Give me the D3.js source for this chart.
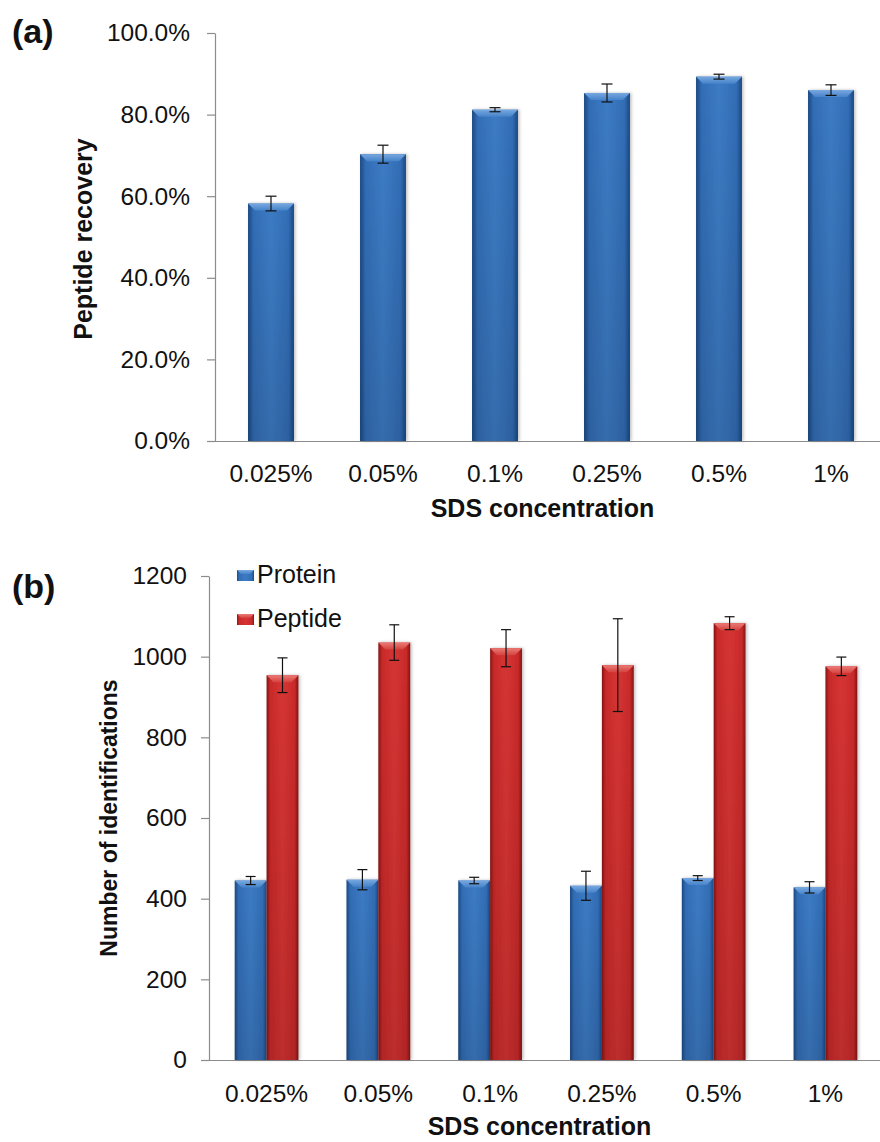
<!DOCTYPE html>
<html>
<head>
<meta charset="utf-8">
<script src="https://cdn.jsdelivr.net/npm/d3@7"></script>
<style>
  html, body { margin: 0; padding: 0; background: #fff; }
  svg { display: block; font-family: "Liberation Sans", Arial, sans-serif; }
</style>
</head>
<body>
<svg id="fig" width="880" height="1142"></svg>
<script>
// SDS concentrations tested
const concentrations = ["0.025%", "0.05%", "0.1%", "0.25%", "0.5%", "1%"];

// (a) peptide recovery (%) with standard deviation
const recovery    = [58.2, 70.3, 81.2, 85.3, 89.3, 86.0];
const recoveryErr = [1.8, 2.2, 0.5, 2.2, 0.6, 1.3];

// (b) number of identifications with standard deviation
const proteinIds    = [445, 447, 445, 432, 451, 428];
const proteinErr    = [10, 25, 8, 36, 6, 14];
const peptideIds    = [954, 1035, 1021, 979, 1083, 976];
const peptideErr    = [43, 44, 46, 115, 16, 23];

const seriesNames = ["Protein", "Peptide"];
const recoveryTicks = [0, 20, 40, 60, 80, 100];
const idTicks = [0, 200, 400, 600, 800, 1000, 1200];

const TICK_FONT = "24.5px";

const svg = d3.select("#fig");
const defs = svg.append("defs");

// bar fills: horizontal shading across the bar, lighter chamfer on top
const palettes = {
  blue: { edge: "#1a4883", mid: "#326db5", light: "#3c7bc4", top: "#78a8e0", topEdge: "#4683c9" },
  red:  { edge: "#861414", mid: "#c92a2a", light: "#d63433", top: "#ec7a76", topEdge: "#d4433f" }
};
Object.entries(palettes).forEach(([k, p]) => {
  const g = defs.append("linearGradient").attr("id", "body-" + k)
    .attr("x1", 0).attr("x2", 1).attr("y1", 0).attr("y2", 0);
  g.append("stop").attr("offset", "0%").attr("stop-color", p.edge);
  g.append("stop").attr("offset", "12%").attr("stop-color", p.mid);
  g.append("stop").attr("offset", "50%").attr("stop-color", p.light);
  g.append("stop").attr("offset", "88%").attr("stop-color", p.mid);
  g.append("stop").attr("offset", "100%").attr("stop-color", p.edge);
  const t = defs.append("linearGradient").attr("id", "top-" + k)
    .attr("x1", 0).attr("x2", 0).attr("y1", 0).attr("y2", 1);
  t.append("stop").attr("offset", "0%").attr("stop-color", p.top);
  t.append("stop").attr("offset", "100%").attr("stop-color", p.topEdge);
});
// slight darkening toward the base of each bar
const fade = defs.append("linearGradient").attr("id", "base-fade")
  .attr("x1", 0).attr("x2", 0).attr("y1", 0).attr("y2", 1);
fade.append("stop").attr("offset", "0%").attr("stop-color", "#000").attr("stop-opacity", 0);
fade.append("stop").attr("offset", "100%").attr("stop-color", "#000").attr("stop-opacity", 0.12);

const sh = defs.append("filter").attr("id", "shadow")
  .attr("x", "-20%").attr("y", "-5%").attr("width", "150%").attr("height", "110%");
sh.append("feDropShadow").attr("dx", 1.5).attr("dy", 0).attr("stdDeviation", 1.5)
  .attr("flood-color", "#000").attr("flood-opacity", 0.25);

function bar(g, x, y, w, h, key) {
  const bev = Math.min(7, w / 4, h / 2);
  const grp = g.append("g").attr("filter", "url(#shadow)");
  grp.append("rect").attr("x", x).attr("y", y).attr("width", w).attr("height", h)
    .attr("fill", `url(#body-${key})`);
  grp.append("rect").attr("x", x).attr("y", y).attr("width", w).attr("height", h)
    .attr("fill", "url(#base-fade)");
  grp.append("path")
    .attr("d", `M${x},${y}L${x + w},${y}L${x + w - bev},${y + bev}L${x + bev},${y + bev}Z`)
    .attr("fill", `url(#top-${key})`);
}

function errBar(g, cx, yTop, yBot, cap) {
  const e = g.append("g").attr("stroke", "#111").attr("stroke-width", 1.2);
  e.append("line").attr("x1", cx).attr("x2", cx).attr("y1", yTop).attr("y2", yBot);
  e.append("line").attr("x1", cx - cap).attr("x2", cx + cap).attr("y1", yTop).attr("y2", yTop);
  e.append("line").attr("x1", cx - cap).attr("x2", cx + cap).attr("y1", yBot).attr("y2", yBot);
}

function styleAxis(ax) {
  ax.select(".domain").attr("stroke", "#8c8c8c").attr("stroke-width", 1.2);
  ax.selectAll(".tick line").attr("stroke", "#8c8c8c").attr("stroke-width", 1.2);
  ax.selectAll(".tick text").attr("fill", "#111").style("font-size", TICK_FONT);
}

function title(g, x, y, text, rotate, size) {
  const t = g.append("text")
    .attr("text-anchor", "middle").style("font-size", size).style("font-weight", "bold")
    .attr("fill", "#111").text(text);
  if (rotate) t.attr("transform", `translate(${x},${y}) rotate(-90)`);
  else t.attr("x", x).attr("y", y);
  return t;
}

// ---------- (a) peptide recovery ----------
{
  const left = 215, right = 887, top = 33, base = 441;
  const x = d3.scaleBand().domain(concentrations).range([left, right])
    .paddingInner(0.59).paddingOuter(0.295);
  const y = d3.scaleLinear().domain([0, 100]).range([base, top]);
  const g = svg.append("g");

  const ya = g.append("g").attr("transform", `translate(${left},0)`)
    .call(d3.axisLeft(y).tickValues(recoveryTicks).tickSize(8).tickSizeOuter(0)
      .tickPadding(17).tickFormat(d => d.toFixed(1) + "%"));
  styleAxis(ya);

  const xa = g.append("g").attr("transform", `translate(0,${base})`)
    .call(d3.axisBottom(x).tickSize(0).tickSizeOuter(0).tickPadding(24));
  styleAxis(xa);
  xa.select(".domain").attr("d", `M${left},0.5H880`);

  concentrations.forEach((c, i) => {
    bar(g, x(c), y(recovery[i]), x.bandwidth(), base - y(recovery[i]), "blue");
  });
  concentrations.forEach((c, i) => {
    const cx = x(c) + x.bandwidth() / 2;
    errBar(g, cx, y(recovery[i] + recoveryErr[i]), y(recovery[i] - recoveryErr[i]), 5.5);
  });

  title(g, 92, (top + base) / 2 + 2, "Peptide recovery", true, "25px");
  title(g, (left + 880) / 2 - 5, 517, "SDS concentration", false, "25px");
  g.append("text").attr("x", 12).attr("y", 43).style("font-size", "34px")
    .style("font-weight", "bold").attr("fill", "#111").text("(a)");
}

// ---------- (b) identifications ----------
{
  const left = 209, right = 883, top = 576, base = 1060;
  const x0 = d3.scaleBand().domain(concentrations).range([left, right])
    .paddingInner(0.43).paddingOuter(0.23);
  const x1 = d3.scaleBand().domain(seriesNames).range([0, x0.bandwidth()]);
  const y = d3.scaleLinear().domain([0, 1200]).range([base, top]);
  const g = svg.append("g");

  const ya = g.append("g").attr("transform", `translate(${left},0)`)
    .call(d3.axisLeft(y).tickValues(idTicks).tickSize(8).tickSizeOuter(0)
      .tickPadding(14).tickFormat(d3.format("d")));
  styleAxis(ya);

  const xa = g.append("g").attr("transform", `translate(0,${base})`)
    .call(d3.axisBottom(x0).tickSize(0).tickSizeOuter(0).tickPadding(25));
  styleAxis(xa);
  xa.select(".domain").attr("d", `M${left},0.5H880`);

  const series = [
    { name: "Protein", vals: proteinIds, errs: proteinErr, key: "blue" },
    { name: "Peptide", vals: peptideIds, errs: peptideErr, key: "red" }
  ];
  concentrations.forEach((c, i) => {
    series.forEach(s => {
      const bx = x0(c) + x1(s.name);
      bar(g, bx, y(s.vals[i]), x1.bandwidth(), base - y(s.vals[i]), s.key);
    });
  });
  concentrations.forEach((c, i) => {
    series.forEach(s => {
      const cx = x0(c) + x1(s.name) + x1.bandwidth() / 2;
      errBar(g, cx, y(s.vals[i] + s.errs[i]), y(s.vals[i] - s.errs[i]), 5);
    });
  });

  // legend
  const lg = g.append("g").attr("transform", "translate(237,570)");
  series.forEach((s, i) => {
    const row = lg.append("g").attr("transform", `translate(0,${i * 44})`);
    row.append("rect").attr("width", 17).attr("height", 11).attr("fill", `url(#body-${s.key})`);
    row.append("path").attr("d", "M0,0L17,0L13,4L4,4Z").attr("fill", `url(#top-${s.key})`);
    row.append("text").attr("x", 20).attr("y", 13).style("font-size", "25px").attr("fill", "#111")
      .text(s.name);
  });

  title(g, 117, (top + base) / 2, "Number of identifications", true, "23px");
  title(g, (left + 880) / 2 - 5, 1135, "SDS concentration", false, "25px");
  g.append("text").attr("x", 12).attr("y", 598).style("font-size", "34px")
    .style("font-weight", "bold").attr("fill", "#111").text("(b)");
}
</script>
</body>
</html>
